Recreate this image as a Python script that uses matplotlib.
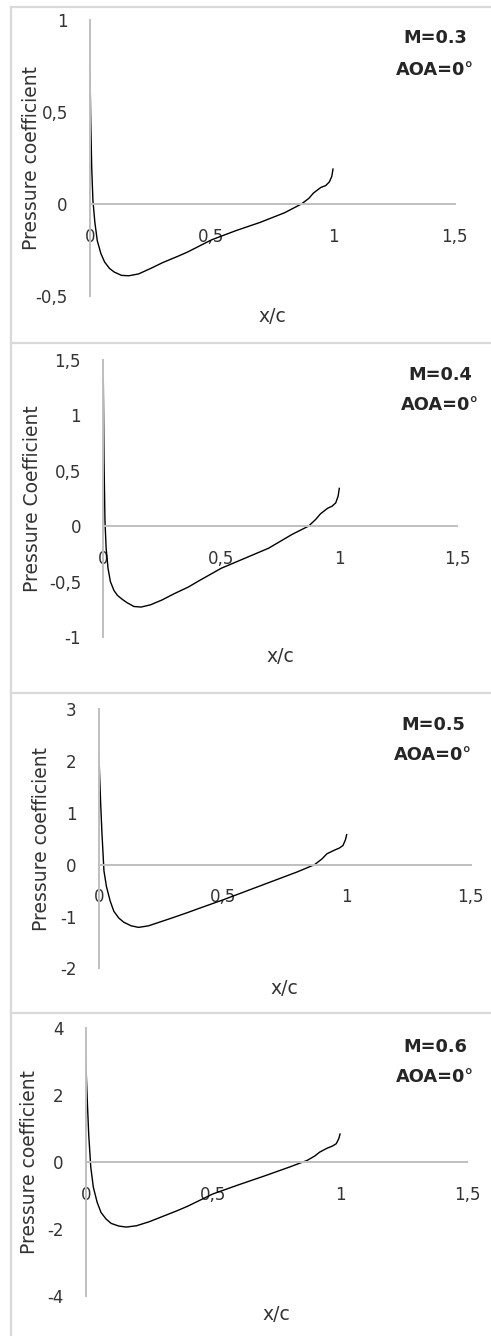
import matplotlib
matplotlib.use("Agg")
import matplotlib.pyplot as plt
from matplotlib.lines import Line2D
from matplotlib.ticker import FuncFormatter

# chordwise stations (x/c), shared by all four cases
x_c = [0, 0.003, 0.007, 0.012, 0.02, 0.03, 0.045, 0.06, 0.08, 0.1, 0.13, 0.16,
       0.2, 0.25, 0.3, 0.36, 0.4, 0.5, 0.6, 0.7, 0.8, 0.87, 0.9, 0.92, 0.95,
       0.97, 0.985, 0.995, 1.0]

cp_m03 = [0.73, 0.45, 0.2, 0.02, -0.1, -0.2, -0.27, -0.315, -0.35, -0.37, -0.388,
          -0.39, -0.38, -0.35, -0.318, -0.285, -0.262, -0.195, -0.145, -0.1,
          -0.048, 0.0, 0.03, 0.06, 0.09, 0.1, 0.12, 0.15, 0.19]
cp_m04 = [1.32, 0.6, 0.05, -0.2, -0.38, -0.5, -0.58, -0.625, -0.66, -0.69, -0.725,
          -0.73, -0.71, -0.665, -0.61, -0.55, -0.5, -0.38, -0.29, -0.2, -0.075,
          0.0, 0.06, 0.11, 0.16, 0.18, 0.21, 0.27, 0.34]
cp_m05 = [2.1, 1.65, 1.15, 0.6, -0.12, -0.42, -0.7, -0.9, -1.03, -1.11, -1.18,
          -1.21, -1.18, -1.1, -1.02, -0.92, -0.85, -0.68, -0.5, -0.32, -0.14,
          0.0, 0.11, 0.21, 0.28, 0.32, 0.37, 0.48, 0.58]
cp_m06 = [3.15, 2.5, 1.7, 0.8, -0.15, -0.75, -1.2, -1.5, -1.7, -1.83, -1.91,
          -1.94, -1.9, -1.78, -1.63, -1.45, -1.32, -0.95, -0.68, -0.42, -0.15,
          0.05, 0.18, 0.3, 0.42, 0.48, 0.55, 0.7, 0.84]

series = [cp_m03, cp_m04, cp_m05, cp_m06]
mach_labels = ["M=0.3", "M=0.4", "M=0.5", "M=0.6"]
aoa_label = "AOA=0°"
y_titles = ["Pressure coefficient", "Pressure Coefficient",
            "Pressure coefficient", "Pressure coefficient"]
x_ticks = [0, 0.5, 1, 1.5]
y_ticks = [[-0.5, 0, 0.5, 1],
           [-1, -0.5, 0, 0.5, 1, 1.5],
           [-2, -1, 0, 1, 2, 3],
           [-4, -2, 0, 2, 4]]

# layout in pixels: plot box (left, right, top, bottom) and label centres
W, H = 491, 1336
boxes = [(90, 454.5, 20, 296),
         (103.3, 457.3, 359.7, 637),
         (99, 470.5, 709.3, 968.3),
         (85.7, 467.2, 1028.3, 1296)]
ylab_x = [32, 32, 41.7, 30]
xlab_y = [317, 657, 988, 1315]
note_pos = [(435, 38, 70), (440, 375, 405), (433, 725, 755), (435, 1047, 1077)]
dividers = [7, 343, 693, 1013]

plt.rcParams['font.family'] = ['DejaVu Sans']

fig = plt.figure(figsize=(W / 100, H / 100), dpi=100)

grid_col = "#d9d9d9"
axis_col = "#bfbfbf"
text_col = "#333333"


def comma_fmt(v, pos):
    s = "%g" % v
    return s.replace(".", ",")


for i in range(4):
    x0, x1, yt, yb = boxes[i]
    ax = fig.add_axes([x0 / W, 1 - yb / H, (x1 - x0) / W, (yb - yt) / H])
    ax.patch.set_alpha(0)
    ax.plot(x_c, series[i], color="black", lw=1.0)

    ax.set_xlim(0, 1.5)
    ax.set_ylim(y_ticks[i][0], y_ticks[i][-1])
    ax.set_xticks(x_ticks)
    ax.set_yticks(y_ticks[i])
    ax.xaxis.set_major_formatter(FuncFormatter(comma_fmt))
    ax.yaxis.set_major_formatter(FuncFormatter(comma_fmt))

    for s in ["top", "right"]:
        ax.spines[s].set_visible(False)
    ax.spines["bottom"].set_position(("data", 0))
    for s in ["left", "bottom"]:
        ax.spines[s].set_color(axis_col)
        ax.spines[s].set_linewidth(1.4)

    ax.tick_params(axis="both", length=0, labelsize=12, labelcolor=text_col)
    ax.tick_params(axis="y", pad=16)
    ax.tick_params(axis="x", pad=17)

    pw = x1 - x0
    ph = yb - yt
    ax.set_ylabel(y_titles[i], fontsize=13.5, color=text_col, va="center")
    ax.yaxis.set_label_coords((ylab_x[i] - x0) / pw, 0.5)
    ax.set_xlabel("x/c", fontsize=13.5, color=text_col, va="center")
    ax.xaxis.set_label_coords(0.5, -(xlab_y[i] - yb) / ph)

    nx, ny1, ny2 = note_pos[i]
    fig.text(nx / W, 1 - ny1 / H, mach_labels[i], ha="center", va="center",
             fontsize=12.8, fontweight="bold", color="#262626")
    fig.text(nx / W, 1 - ny2 / H, aoa_label, ha="center", va="center",
             fontsize=12.8, fontweight="bold", color="#262626")

# chart borders
for yd in dividers:
    fig.add_artist(Line2D([11 / W, 1], [1 - yd / H, 1 - yd / H],
                          color=grid_col, lw=1.6))
fig.add_artist(Line2D([11 / W, 11 / W], [1 - 7 / H, 0], color=grid_col, lw=1.6))

fig.savefig("out.png", dpi=100, facecolor="white")
